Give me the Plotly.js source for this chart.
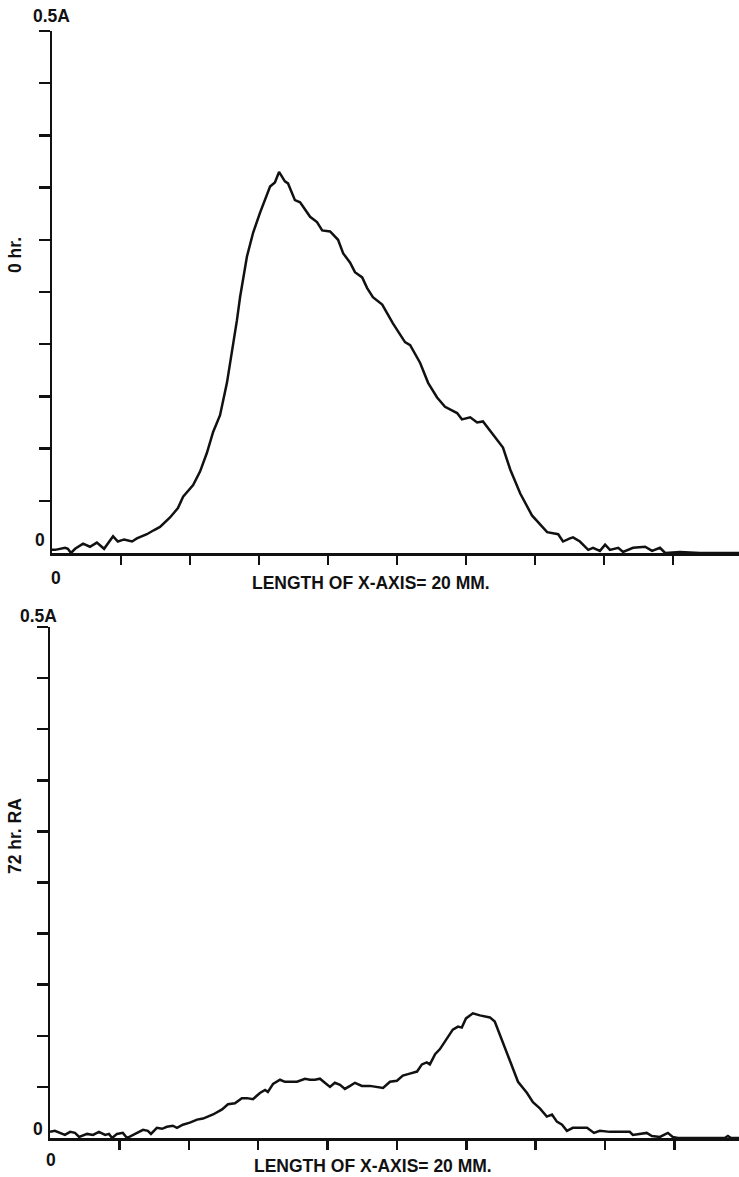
<!DOCTYPE html>
<html>
<head>
<meta charset="utf-8">
<script src="https://cdn.plot.ly/plotly-3.0.1.min.js"></script>
<style>
html,body{margin:0;padding:0;background:#fff;overflow:hidden;}
#chart{width:739px;height:1177px;}
</style>
</head>
<body>
<div id="chart"></div>
<script>
// Top panel: 0 hr. (x in mm, y in absorbance A)
const xTop = [0,0.09,0.38,0.46,0.55,0.67,0.90,1.10,1.30,1.51,1.77,1.91,2.09,2.32,2.46,2.75,2.96,3.13,3.42,3.65,3.80,4.09,4.29,4.49,4.67,4.87,5.07,5.22,5.36,5.45,5.65,5.83,6.03,6.32,6.46,6.58,6.75,6.84,7.04,7.19,7.48,7.68,7.83,8.06,8.29,8.44,8.64,8.78,8.99,9.13,9.30,9.57,9.88,10.23,10.38,10.67,10.90,11.16,11.39,11.74,11.88,12.12,12.32,12.49,12.78,13.07,13.28,13.57,13.91,14.35,14.67,14.81,15.01,15.10,15.30,15.54,15.68,15.88,16.03,16.17,16.41,16.55,16.84,17.19,17.39,17.62,17.77,18.20,18.78,19.91];
const yTop = [0.003,0.003,0.005,0.004,0.000,0.004,0.009,0.006,0.010,0.004,0.016,0.011,0.013,0.011,0.014,0.018,0.022,0.025,0.034,0.043,0.054,0.065,0.078,0.096,0.116,0.132,0.163,0.192,0.223,0.245,0.284,0.307,0.326,0.351,0.355,0.365,0.356,0.354,0.338,0.336,0.322,0.317,0.309,0.308,0.300,0.287,0.278,0.269,0.264,0.254,0.245,0.238,0.220,0.202,0.199,0.182,0.163,0.149,0.140,0.134,0.128,0.130,0.125,0.126,0.113,0.101,0.080,0.057,0.036,0.020,0.018,0.011,0.014,0.015,0.011,0.003,0.005,0.002,0.008,0.003,0.005,0.001,0.005,0.006,0.002,0.005,0.000,0.001,0.000,0.000];

// Bottom panel: 72 hr. RA
const xBot = [0,0.14,0.43,0.58,0.72,0.84,1.07,1.24,1.41,1.59,1.70,1.79,1.93,2.10,2.22,2.51,2.68,2.82,2.91,3.08,3.23,3.37,3.54,3.66,3.83,4.03,4.24,4.41,4.70,4.96,5.13,5.33,5.53,5.68,5.85,6.05,6.20,6.28,6.43,6.63,6.77,6.92,7.12,7.35,7.49,7.64,7.78,8.07,8.21,8.36,8.50,8.65,8.79,8.99,9.22,9.60,9.80,10.00,10.17,10.37,10.58,10.72,10.86,10.95,11.10,11.24,11.44,11.61,11.76,11.87,11.99,12.19,12.39,12.68,12.82,12.97,13.17,13.31,13.49,13.75,13.92,14.12,14.32,14.47,14.61,14.76,14.90,15.07,15.33,15.48,15.68,15.85,16.14,16.43,16.71,16.80,17.00,17.20,17.35,17.58,17.81,17.95,18.10,18.73,19.45,19.54,19.63,19.86];
const yBot = [0.006,0.007,0.003,0.006,0.005,0.001,0.004,0.003,0.006,0.003,0.004,0.000,0.004,0.005,0.000,0.005,0.008,0.007,0.004,0.010,0.009,0.011,0.012,0.010,0.013,0.015,0.018,0.019,0.023,0.028,0.033,0.034,0.039,0.039,0.038,0.044,0.047,0.045,0.053,0.057,0.055,0.055,0.055,0.058,0.057,0.057,0.058,0.050,0.054,0.052,0.048,0.051,0.054,0.051,0.051,0.049,0.055,0.056,0.061,0.063,0.065,0.072,0.074,0.072,0.082,0.087,0.098,0.106,0.109,0.108,0.117,0.122,0.120,0.118,0.114,0.101,0.084,0.071,0.055,0.044,0.035,0.029,0.021,0.023,0.016,0.013,0.007,0.010,0.010,0.010,0.005,0.007,0.006,0.006,0.006,0.003,0.004,0.005,0.002,0.001,0.005,0.001,0.000,0.000,0.000,0.002,0.000,0.000];

// Tick positions
const xTickVals = [2,4,6,8,10,12,14,16,18];
const yTickVals = [0.05,0.10,0.15,0.20,0.25,0.30,0.35,0.40,0.45,0.50];

// Texts
const topLabel = "0 hr.";
const botLabel = "72 hr. RA";
const xTitle = "LENGTH OF X-AXIS= 20 MM.";
const yMaxLabel = "0.5A";
const zeroLabel = "0";

const W = 739, H = 1177;
const FONT = {family: "Liberation Sans, Arial, Helvetica, sans-serif", size: 17.5, color: "#111", weight: "bold"};
const px = v => v / W;
const py = v => (H - v) / H;

const lineStyle = {color: "#111", width: 2.5};

const traces = [
  {x: xTop, y: yTop, type: "scatter", mode: "lines", line: lineStyle, xaxis: "x", yaxis: "y", hoverinfo: "skip"},
  {x: xBot, y: yBot, type: "scatter", mode: "lines", line: lineStyle, xaxis: "x2", yaxis: "y2", hoverinfo: "skip"}
];

function xax(domain, range, anchor) {
  return {domain, range, anchor, showline: true, linewidth: 2.5, linecolor: "#111",
    ticks: "outside", ticklen: 9, tickwidth: 2.5, tickcolor: "#111",
    tickmode: "array", tickvals: xTickVals, showticklabels: false,
    showgrid: false, zeroline: false, fixedrange: true};
}
function yax(domain, anchor) {
  return {domain, range: [0, 0.5], anchor, showline: true, linewidth: 2.5, linecolor: "#111",
    ticks: "outside", ticklen: 11, tickwidth: 2.5, tickcolor: "#111",
    tickmode: "array", tickvals: yTickVals, showticklabels: false,
    showgrid: false, zeroline: false, fixedrange: true};
}

function ann(text, x, y, angle) {
  return {text, x: px(x), y: py(y), xref: "paper", yref: "paper",
    xanchor: "center", yanchor: "middle", showarrow: false, font: FONT, textangle: angle || 0};
}

const layout = {
  width: W, height: H,
  margin: {l: 0, r: 0, t: 0, b: 0},
  paper_bgcolor: "#fff", plot_bgcolor: "#fff",
  showlegend: false,
  xaxis: xax([px(52), 1], [0, 19.91], "y"),
  yaxis: yax([py(553), py(31)], "x"),
  xaxis2: xax([px(50), 1], [0, 19.86], "y2"),
  yaxis2: yax([py(1138), py(627)], "x2"),
  annotations: [
    ann(yMaxLabel, 51, 16),
    ann(zeroLabel, 40, 540),
    ann(zeroLabel, 56, 578),
    ann(xTitle, 371, 583),
    ann(topLabel, 15, 255, -90),
    ann(yMaxLabel, 38, 616),
    ann(zeroLabel, 38, 1129),
    ann(zeroLabel, 51, 1160),
    ann(xTitle, 373, 1166),
    ann(botLabel, 15, 836, -90)
  ]
};

Plotly.newPlot("chart", traces, layout, {staticPlot: true, displayModeBar: false});
</script>
</body>
</html>
